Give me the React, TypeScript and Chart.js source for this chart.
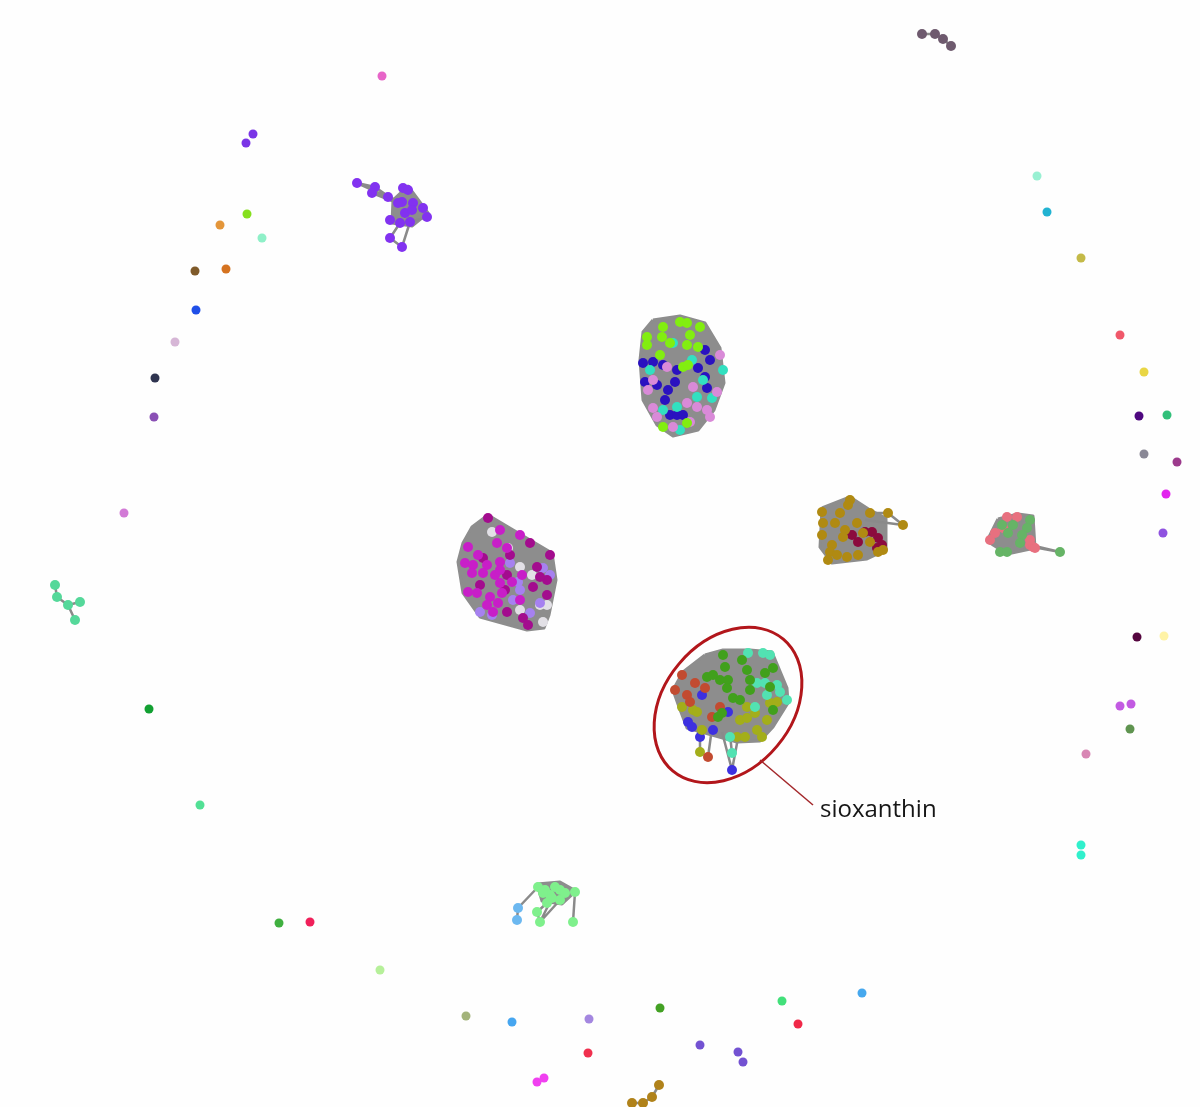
import React, { useEffect, useRef } from "react";
import { Chart, registerables } from "chart.js";
Chart.register(...registerables);

type P = [number, number];
type Seg = [number, number, number, number];

const X_RANGE: P = [0, 1200];
const Y_RANGE: P = [0, 1107];

// ---------- isolated nodes ----------
const soloNodes: P[] = [
  [382, 76], [253, 134], [246, 143], [247, 214], [220, 225], [262, 238], [195, 271], [226, 269],
  [196, 310], [175, 342], [155, 378], [154, 417], [124, 513], [149, 709], [200, 805], [279, 923],
  [310, 922], [380, 970], [466, 1016], [512, 1022], [589, 1019], [588, 1053], [537, 1082], [544, 1078],
  [660, 1008], [700, 1045], [738, 1052], [743, 1062], [782, 1001], [798, 1024], [862, 993],
  [1081, 845], [1081, 855], [1086, 754], [1130, 729], [1120, 706], [1131, 704], [1137, 637], [1164, 636],
  [1163, 533], [1166, 494], [1144, 454], [1177, 462], [1139, 416], [1167, 415], [1144, 372], [1120, 335],
  [1081, 258], [1047, 212], [1037, 176],
];
const soloColors: string[] = [
  "#e765c8", "#7a35e6", "#7a35e6", "#86e01e", "#e4963a", "#8ff0c8", "#7f5a2a", "#d57320",
  "#1f4fe8", "#d6b6d6", "#2f3450", "#8a50b5", "#d27ad6", "#12a032", "#52e095", "#40b040",
  "#f0205a", "#b6f09a", "#a3b37a", "#46a6f0", "#a487e0", "#f0304e", "#f040f0", "#f040f0",
  "#43a124", "#7352d2", "#7352d2", "#7352d2", "#42e07a", "#f02848", "#46a8ee",
  "#30f0cc", "#30f0cc", "#d886b4", "#5f9450", "#c25ae2", "#c25ae2", "#55063f", "#fff3a6",
  "#8f52e0", "#e224ee", "#8a8896", "#9c3a8c", "#4e0880", "#32c07a", "#e9d645", "#f0586a",
  "#c4ba48", "#22b3d2", "#98f0d2",
];

// ---------- small chains ----------
const chainTopRight: P[] = [[922, 34], [935, 34], [943, 39], [951, 46]];
const chainBottom: P[] = [[632, 1103], [643, 1103], [652, 1097], [659, 1085]];
const mintTree: P[] = [[55, 585], [57, 597], [68, 605], [80, 602], [75, 620]];
const mintTreeLinks: P[] = [[0, 1], [1, 2], [2, 3], [2, 4]];

// ---------- top cluster ----------
const topHull: P[] = [[653, 320], [680, 316], [705, 323], [720, 348], [724, 383], [714, 410], [698, 430], [673, 436], [657, 425], [643, 400], [640, 360], [643, 332]];
const topLime: P[] = [[663, 327], [680, 322], [687, 323], [700, 327], [647, 337], [662, 337], [690, 335], [647, 345], [670, 343], [687, 345], [698, 347], [660, 355], [683, 367], [688, 365], [663, 427], [687, 423]];
const topNavy: P[] = [[705, 350], [710, 360], [643, 363], [653, 362], [663, 365], [677, 370], [698, 368], [705, 377], [645, 382], [657, 385], [675, 382], [668, 390], [707, 388], [665, 400], [670, 415], [677, 415], [683, 415]];
const topCyan: P[] = [[673, 343], [692, 360], [650, 370], [723, 370], [703, 380], [697, 397], [663, 410], [680, 430], [677, 407], [712, 398]];
const topPink: P[] = [[720, 355], [667, 367], [653, 380], [648, 390], [693, 387], [717, 392], [687, 403], [653, 408], [697, 407], [707, 410], [657, 417], [690, 422], [673, 427], [710, 417]];

// ---------- magenta cluster ----------
const magHull: P[] = [[488, 515], [530, 540], [552, 553], [556, 580], [549, 615], [544, 628], [527, 630], [480, 617], [463, 593], [458, 562], [463, 543], [472, 527]];
const magBright: P[] = [[500, 530], [520, 535], [468, 547], [478, 555], [497, 543], [507, 548], [465, 563], [473, 565], [487, 565], [500, 562], [483, 573], [495, 575], [472, 573], [500, 570], [522, 575], [468, 592], [477, 593], [500, 583], [512, 582], [490, 597], [502, 593], [487, 605], [498, 603], [493, 612], [520, 600]];
const magDark: P[] = [[488, 518], [530, 543], [550, 555], [510, 555], [483, 558], [507, 575], [537, 567], [533, 587], [507, 612], [523, 618], [528, 625], [547, 595], [547, 580], [540, 577], [505, 590], [480, 585]];
const magLavender: P[] = [[510, 563], [518, 582], [543, 568], [550, 575], [513, 600], [540, 603], [480, 612], [520, 590], [492, 615], [530, 613]];
const magPale: P[] = [[492, 532], [508, 548], [520, 567], [532, 575], [540, 605], [547, 605], [520, 610], [543, 622]];

// ---------- sioxanthin cluster ----------
const sioxHull: P[] = [[705, 655], [723, 650], [750, 650], [772, 652], [787, 688], [788, 703], [773, 727], [760, 741], [737, 742], [687, 728], [679, 707], [673, 690], [683, 672]];
const sioxLinks: Seg[] = [[722, 732, 732, 770], [738, 738, 732, 770], [730, 735, 732, 753], [700, 728, 700, 752], [712, 728, 708, 757], [695, 725, 700, 737]];
const sioxGreen: P[] = [[723, 655], [742, 660], [725, 667], [747, 670], [707, 677], [720, 680], [728, 680], [750, 680], [765, 673], [773, 668], [713, 675], [727, 688], [733, 698], [750, 690], [770, 687], [773, 710], [718, 717], [722, 713], [740, 700]];
const sioxMint: P[] = [[748, 653], [763, 653], [770, 655], [757, 683], [765, 683], [777, 685], [780, 692], [787, 700], [767, 695], [755, 707], [730, 737], [732, 753]];
const sioxRust: P[] = [[682, 675], [695, 683], [675, 690], [687, 695], [690, 702], [705, 688], [720, 707], [712, 717], [708, 757]];
const sioxOlive: P[] = [[682, 707], [693, 710], [697, 712], [702, 730], [740, 720], [747, 718], [755, 713], [770, 703], [777, 702], [767, 720], [757, 730], [762, 737], [737, 737], [745, 737], [700, 752], [747, 707]];
const sioxBlue: P[] = [[702, 695], [688, 722], [692, 727], [713, 730], [700, 737], [728, 712], [732, 770]];

// ---------- ochre cluster ----------
const ochreHull: P[] = [[822, 508], [850, 497], [870, 510], [886, 518], [886, 550], [867, 559], [832, 563], [820, 547]];
const ochreLinks: Seg[] = [[870, 513, 888, 513], [888, 513, 903, 525], [865, 520, 903, 525]];
const ochreGold: P[] = [[822, 512], [850, 500], [848, 505], [840, 513], [870, 513], [888, 513], [903, 525], [823, 523], [835, 523], [857, 523], [845, 530], [822, 535], [843, 537], [870, 542], [832, 545], [883, 550], [878, 552], [830, 552], [828, 560], [837, 555], [847, 557], [858, 555], [863, 533]];
const ochreMaroon: P[] = [[852, 535], [865, 532], [872, 532], [858, 542], [878, 538], [882, 545], [877, 548]];

// ---------- pink / green cluster ----------
const pgHull: P[] = [[998, 519], [1018, 514], [1033, 516], [1035, 548], [1007, 554], [987, 541]];
const pgLinks: Seg[] = [[1033, 547, 1060, 552], [1022, 543, 1060, 552]];
const pgPink: P[] = [[1007, 517], [1017, 517], [990, 540], [1003, 528], [1030, 545], [1033, 547], [995, 533], [1035, 548], [1030, 540]];
const pgGreen: P[] = [[1002, 525], [1013, 525], [1030, 520], [1027, 528], [1008, 533], [1022, 535], [1000, 552], [1007, 552], [1020, 543], [1060, 552]];

// ---------- purple cluster ----------
const purpleHull: P[] = [[393, 200], [408, 186], [428, 213], [412, 226], [392, 223]];
const purpleLinks: Seg[] = [[357, 183, 375, 187], [357, 183, 388, 197], [375, 187, 398, 203], [372, 193, 405, 206], [375, 187, 372, 193], [388, 197, 402, 202], [390, 238, 402, 247], [390, 238, 400, 223], [402, 247, 410, 222], [400, 223, 410, 222], [410, 222, 427, 217]];
const purpleNodes: P[] = [[357, 183], [375, 187], [372, 193], [388, 197], [403, 188], [408, 190], [402, 202], [398, 203], [413, 203], [423, 208], [427, 217], [410, 222], [400, 223], [390, 220], [390, 238], [402, 247], [405, 213], [412, 210]];

// ---------- light green cluster ----------
const lgHull: P[] = [[537, 884], [560, 882], [576, 891], [562, 904], [542, 901]];
const lgLinks: Seg[] = [[518, 908, 538, 887], [518, 908, 517, 920], [540, 922, 560, 900], [537, 912, 540, 922], [537, 912, 547, 903], [573, 922, 575, 892], [540, 922, 552, 898]];
const lgGreen: P[] = [[538, 887], [545, 890], [555, 887], [560, 890], [550, 895], [543, 893], [575, 892], [565, 893], [560, 900], [552, 898], [537, 912], [540, 922], [573, 922], [547, 903]];
const lgBlue: P[] = [[518, 908], [517, 920]];

// ---------- callout ----------
const calloutLabel = "sioxanthin";
const calloutCenter: P = [728, 705];
const calloutRadii: P = [86, 64];
const calloutAngle = -50;
const calloutLeader: Seg = [760, 760, 813, 805];
const calloutTextAt: P = [820, 817];

const GRAY = "#8d8d8d";
const EDGE = "#8a8a8a";

const xy = (list: P[]) => list.map(([x, y]) => ({ x, y }));
const closed = (list: P[]) => xy([...list, list[0]]);
const chainToSegs = (list: P[]): Seg[] =>
  list.slice(1).map((p, i) => [list[i][0], list[i][1], p[0], p[1]] as Seg);
const linksToSegs = (nodes: P[], links: P[]): Seg[] =>
  links.map(([a, b]) => [nodes[a][0], nodes[a][1], nodes[b][0], nodes[b][1]] as Seg);
const segData = (segs: Seg[]) => {
  const out: { x: number; y: number }[] = [];
  segs.forEach(([a, b, c, d]) => {
    out.push({ x: a, y: b }, { x: c, y: d }, { x: NaN, y: NaN });
  });
  return out;
};

const calloutPlugin = {
  id: "callout",
  afterDatasetsDraw(chart: any) {
    const { ctx, scales } = chart;
    const sx = scales.x, sy = scales.y;
    const px = (v: number) => sx.getPixelForValue(v);
    const py = (v: number) => sy.getPixelForValue(v);
    const cx = px(calloutCenter[0]);
    const cy = py(calloutCenter[1]);
    const rx = Math.abs(px(calloutCenter[0] + calloutRadii[0]) - cx);
    const ry = Math.abs(py(calloutCenter[1] + calloutRadii[1]) - cy);
    ctx.save();
    ctx.strokeStyle = "#b2161b";
    ctx.lineWidth = 3;
    ctx.beginPath();
    ctx.ellipse(cx, cy, rx, ry, (calloutAngle * Math.PI) / 180, 0, Math.PI * 2);
    ctx.stroke();
    ctx.strokeStyle = "#a3272a";
    ctx.lineWidth = 1.5;
    ctx.beginPath();
    ctx.moveTo(px(calloutLeader[0]), py(calloutLeader[1]));
    ctx.lineTo(px(calloutLeader[2]), py(calloutLeader[3]));
    ctx.stroke();
    ctx.fillStyle = "#161616";
    ctx.font = '24px "Open Sans", "Noto Sans", sans-serif';
    ctx.textBaseline = "alphabetic";
    ctx.textAlign = "left";
    ctx.fillText(calloutLabel, px(calloutTextAt[0]), py(calloutTextAt[1]));
    ctx.restore();
  },
};

export default function App() {
  const ref = useRef<HTMLCanvasElement | null>(null);
  useEffect(() => {
    if (!ref.current) return;
    const hulls = [topHull, magHull, sioxHull, ochreHull, pgHull, purpleHull, lgHull];
    const segs: Seg[] = [
      ...chainToSegs(chainTopRight),
      ...chainToSegs(chainBottom),
      ...linksToSegs(mintTree, mintTreeLinks),
      ...sioxLinks,
      ...ochreLinks,
      ...pgLinks,
      ...purpleLinks,
      ...lgLinks,
    ];
    const groups: { pts: P[]; color: string; r: number }[] = [
      { pts: chainTopRight, color: "#6e5a6e", r: 5 },
      { pts: chainBottom, color: "#b0821a", r: 5 },
      { pts: mintTree, color: "#55d89a", r: 5 },
      { pts: topLime, color: "#82ee10", r: 5 },
      { pts: topPink, color: "#d98ad8", r: 5 },
      { pts: topCyan, color: "#32e0c0", r: 5 },
      { pts: topNavy, color: "#2a12c0", r: 5 },
      { pts: magBright, color: "#c81ec8", r: 5 },
      { pts: magDark, color: "#a30c8e", r: 5 },
      { pts: magLavender, color: "#a681f0", r: 5 },
      { pts: magPale, color: "#e2e0e6", r: 5 },
      { pts: sioxGreen, color: "#41a01c", r: 5 },
      { pts: sioxMint, color: "#52e2b2", r: 5 },
      { pts: sioxRust, color: "#c24b30", r: 5 },
      { pts: sioxOlive, color: "#a3ae1a", r: 5 },
      { pts: sioxBlue, color: "#3d30e0", r: 5 },
      { pts: ochreGold, color: "#b08a12", r: 5 },
      { pts: ochreMaroon, color: "#8b0b3e", r: 5 },
      { pts: pgGreen, color: "#66b466", r: 5 },
      { pts: pgPink, color: "#e8707f", r: 5 },
      { pts: purpleNodes, color: "#8232f0", r: 5 },
      { pts: lgGreen, color: "#7ff08c", r: 5 },
      { pts: lgBlue, color: "#6cb8f0", r: 5 },
    ];
    const datasets: any[] = [];
    groups.forEach((g) =>
      datasets.push({
        type: "scatter",
        data: xy(g.pts),
        pointRadius: g.r,
        pointBackgroundColor: g.color,
        pointBorderColor: g.color,
        pointBorderWidth: 0,
        order: 0,
      })
    );
    datasets.push({
      type: "scatter",
      data: xy(soloNodes),
      pointRadius: 4.5,
      pointBackgroundColor: soloColors,
      pointBorderColor: soloColors,
      pointBorderWidth: 0,
      order: 0,
    });
    datasets.push({
      type: "line",
      data: segData(segs),
      borderColor: EDGE,
      borderWidth: 2.5,
      pointRadius: 0,
      fill: false,
      spanGaps: false,
      tension: 0,
      order: 1,
    });
    hulls.forEach((h) =>
      datasets.push({
        type: "line",
        data: closed(h),
        borderColor: GRAY,
        backgroundColor: GRAY,
        borderWidth: 3,
        borderJoinStyle: "round",
        pointRadius: 0,
        fill: "shape",
        tension: 0,
        order: 2,
      })
    );
    const chart = new Chart(ref.current, {
      type: "scatter",
      data: { datasets },
      options: {
        animation: false,
        responsive: false,
        devicePixelRatio: 1,
        events: [],
        layout: { padding: 0, autoPadding: false },
        plugins: { legend: { display: false }, tooltip: { enabled: false } },
        scales: {
          x: { type: "linear", min: X_RANGE[0], max: X_RANGE[1], display: false },
          y: { type: "linear", min: Y_RANGE[0], max: Y_RANGE[1], reverse: true, display: false },
        },
      },
      plugins: [calloutPlugin],
    } as any);
    return () => chart.destroy();
  }, []);
  return (
    <div style={{ position: "absolute", left: 0, top: 0, width: 1200, height: 1107, background: "#fefefe" }}>
      <canvas ref={ref} width={1200} height={1107} />
    </div>
  );
}
